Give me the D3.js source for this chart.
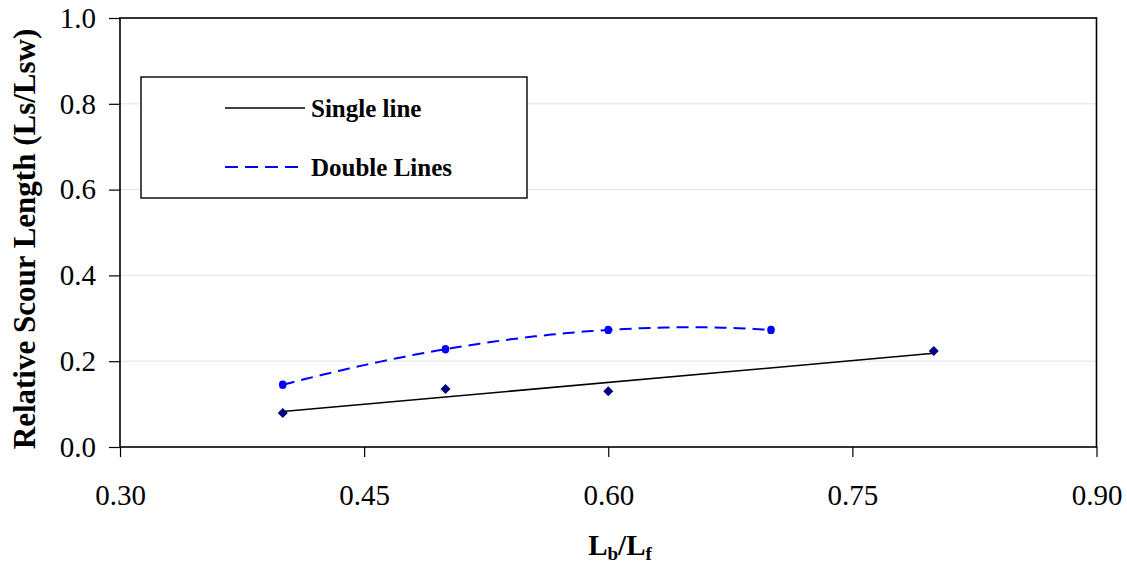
<!DOCTYPE html>
<html lang="en">
<head>
<meta charset="utf-8">
<title>Relative scour length</title>
<script src="https://d3js.org/d3.v7.min.js"></script>
<style>
  body{margin:0;background:#fff;}
  svg{display:block;}
  svg text{font-family:"Liberation Serif","Times New Roman",serif;fill:#000;}
</style>
</head>
<body>
<div id="chart"></div>
<script>
// data
var singleX = [0.40, 0.50, 0.60, 0.80]
var singleY = [0.079, 0.135, 0.130, 0.224]
var doubleX = [0.40, 0.50, 0.60, 0.70]
var doubleY = [0.145, 0.228, 0.273, 0.273]
var xTicks = [0.30, 0.45, 0.60, 0.75, 0.90]
var yTicks = [0.0, 0.2, 0.4, 0.6, 0.8, 1.0]
var seriesNames = ["Single line", "Double Lines"]

var W = 1127, H = 563
var pLeft = 120, pRight = 1096.5, pTop = 18, pBottom = 447

var x = d3.scaleLinear().domain([0.30, 0.90]).range([pLeft, pRight])
var y = d3.scaleLinear().domain([0, 1]).range([pBottom, pTop])

var svg = d3.select("#chart").append("svg")
  .attr("width", W).attr("height", H)

// gridlines
svg.append("g").selectAll("line")
  .data(yTicks.filter(function(d){ return d > 0 && d < 1 }))
  .enter().append("line")
  .attr("x1", pLeft).attr("x2", pRight)
  .attr("y1", function(d){ return y(d) }).attr("y2", function(d){ return y(d) })
  .attr("stroke", "#e3e3e3").attr("stroke-width", 1)

// frame
svg.append("rect")
  .attr("x", pLeft).attr("y", pTop)
  .attr("width", pRight - pLeft).attr("height", pBottom - pTop)
  .attr("fill", "none").attr("stroke", "#000").attr("stroke-width", 1.6)

// axes
var xAxis = svg.append("g").attr("transform", "translate(0," + pBottom + ")")
  .call(d3.axisBottom(x).tickValues(xTicks).tickSize(10).tickSizeOuter(0).tickPadding(27).tickFormat(d3.format(".2f")))
var yAxis = svg.append("g").attr("transform", "translate(" + pLeft + ",0)")
  .call(d3.axisLeft(y).tickValues(yTicks).tickSize(11).tickSizeOuter(0).tickPadding(13).tickFormat(d3.format(".1f")))
;[xAxis, yAxis].forEach(function(a){
  a.attr("font-family", null).attr("font-size", null)
  a.select(".domain").remove()
  a.selectAll("line").attr("stroke", "#000").attr("stroke-width", 1.2)
  a.selectAll("text").style("font-size", "29px").attr("fill", "#000")
})

// linear trend for single line
function linFit(xs, ys){
  var mx = d3.mean(xs), my = d3.mean(ys)
  var sxy = d3.sum(xs, function(v, i){ return (v - mx) * (ys[i] - my) })
  var sxx = d3.sum(xs, function(v){ return (v - mx) * (v - mx) })
  var b = sxy / sxx
  return function(v){ return my + b * (v - mx) }
}
// cubic (polynomial order 3) trend through the 4 points of the double lines
function lagrange(xs, ys){
  return function(v){
    var s = 0
    for (var i = 0; i < xs.length; i++){
      var t = ys[i]
      for (var j = 0; j < xs.length; j++){ if (j != i) t *= (v - xs[j]) / (xs[i] - xs[j]) }
      s += t
    }
    return s
  }
}

var line = d3.line().x(function(d){ return x(d[0]) }).y(function(d){ return y(d[1]) })

var f1 = linFit(singleX, singleY)
var x1 = d3.extent(singleX)
svg.append("path")
  .attr("d", line([[x1[0], f1(x1[0])], [x1[1], f1(x1[1])]]))
  .attr("fill", "none").attr("stroke", "#000").attr("stroke-width", 1.6)

var f2 = lagrange(doubleX, doubleY)
var x2 = d3.extent(doubleX)
var curvePts = d3.range(0, 61).map(function(i){ var v = x2[0] + (x2[1] - x2[0]) * i / 60; return [v, f2(v)] })
svg.append("path")
  .attr("d", line(curvePts))
  .attr("fill", "none").attr("stroke", "#0000ff").attr("stroke-width", 2)
  .attr("stroke-dasharray", "12,7")

// markers
svg.append("g").selectAll("path")
  .data(d3.zip(singleX, singleY))
  .enter().append("path")
  .attr("d", d3.symbol().type(d3.symbolDiamond2).size(64))
  .attr("transform", function(d){ return "translate(" + x(d[0]) + "," + y(d[1]) + ")" })
  .attr("fill", "#000080")

svg.append("g").selectAll("ellipse")
  .data(d3.zip(doubleX, doubleY))
  .enter().append("ellipse")
  .attr("cx", function(d){ return x(d[0]) }).attr("cy", function(d){ return y(d[1]) })
  .attr("rx", 3.8).attr("ry", 4.2)
  .attr("fill", "#0000ff")

// legend
var lg = svg.append("g").attr("transform", "translate(141,77)")
lg.append("rect").attr("width", 386).attr("height", 121)
  .attr("fill", "#fff").attr("stroke", "#000").attr("stroke-width", 1.4)
var styles = [{c:"#000", dash:null, w:1.6}, {c:"#0000ff", dash:"13,7", w:2}]
seriesNames.forEach(function(name, i){
  var yy = 31 + i * 59
  lg.append("line").attr("x1", 84).attr("x2", 164).attr("y1", yy).attr("y2", yy)
    .attr("stroke", styles[i].c).attr("stroke-width", styles[i].w)
    .attr("stroke-dasharray", styles[i].dash)
  lg.append("text").attr("x", 170).attr("y", yy + 9)
    .style("font-size", "25px").attr("font-weight", "bold").text(name)
})

// axis titles
var xt = svg.append("text").attr("x", 620).attr("y", 555)
  .attr("text-anchor", "middle").style("font-size", "29px").attr("font-weight", "bold")
xt.append("tspan").text("L")
xt.append("tspan").style("font-size", "19px").attr("dy", 5).text("b")
xt.append("tspan").attr("dy", -5).text("/L")
xt.append("tspan").style("font-size", "19px").attr("dy", 5).text("f")

svg.append("text")
  .attr("transform", "translate(35,239) rotate(-90)")
  .attr("text-anchor", "middle").style("font-size", "31px").attr("font-weight", "bold")
  .text("Relative Scour Length (Ls/Lsw)")
</script>
</body>
</html>
